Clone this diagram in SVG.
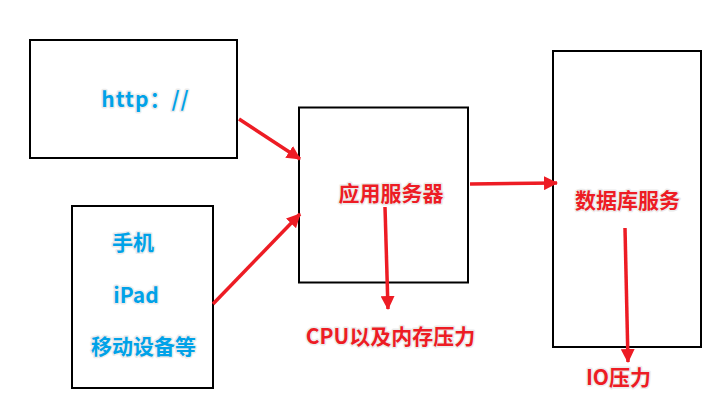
<svg xmlns="http://www.w3.org/2000/svg" width="725" height="410" viewBox="0 0 725 410">
<style>
.box{fill:#fff;stroke:#000;stroke-width:2}
.t{font-family:"Microsoft YaHei","Noto Sans CJK SC","Noto Sans",sans-serif;font-weight:bold;font-size:21px;text-anchor:middle;paint-order:stroke;stroke:#ececec;stroke-width:3;stroke-linejoin:round}
.blue{fill:#00A2E8}
.red{fill:#ED1C24}
.arr{fill:none;stroke:#ED1C24;stroke-width:3.5;marker-end:url(#ah)}
</style>
<defs>
<marker id="ah" markerUnits="userSpaceOnUse" markerWidth="14" markerHeight="14" viewBox="0 0 14 14" refX="13" refY="7" orient="auto">
<path d="M0,0 L14,7 L0,14 Z" fill="#ED1C24"/>
</marker>
</defs>
<rect width="725" height="410" fill="#fff"/>
<g id="node-http">
<rect class="box" x="30" y="40" width="207" height="118"/>
<text class="t blue" x="145.5" y="107" letter-spacing="1">http：//</text>
</g>
<g id="node-devices">
<rect class="box" x="72" y="206" width="141" height="182"/>
<text class="t blue" x="133" y="250">手机</text>
<text class="t blue" x="136" y="303">iPad</text>
<text class="t blue" x="143.5" y="354">移动设备等</text>
</g>
<g id="node-app">
<rect class="box" x="299" y="107.5" width="169" height="175"/>
<text class="t red" x="391" y="201">应用服务器</text>
</g>
<g id="node-db">
<rect class="box" x="553" y="51" width="148" height="296"/>
<text class="t red" x="627.5" y="208">数据库服务</text>
</g>
<g id="labels">
<text class="t red" x="390.5" y="344">CPU以及内存压力</text>
<text class="t red" x="618.5" y="385">IO压力</text>
</g>
<g id="connectors">
<line class="arr" x1="239" y1="119" x2="300" y2="159"/>
<line class="arr" x1="213" y1="304" x2="300" y2="214"/>
<line class="arr" x1="470" y1="184" x2="557" y2="183"/>
<line class="arr" x1="385" y1="207" x2="388" y2="309"/>
<line class="arr" x1="625" y1="228" x2="628" y2="362"/>
</g>
</svg>
